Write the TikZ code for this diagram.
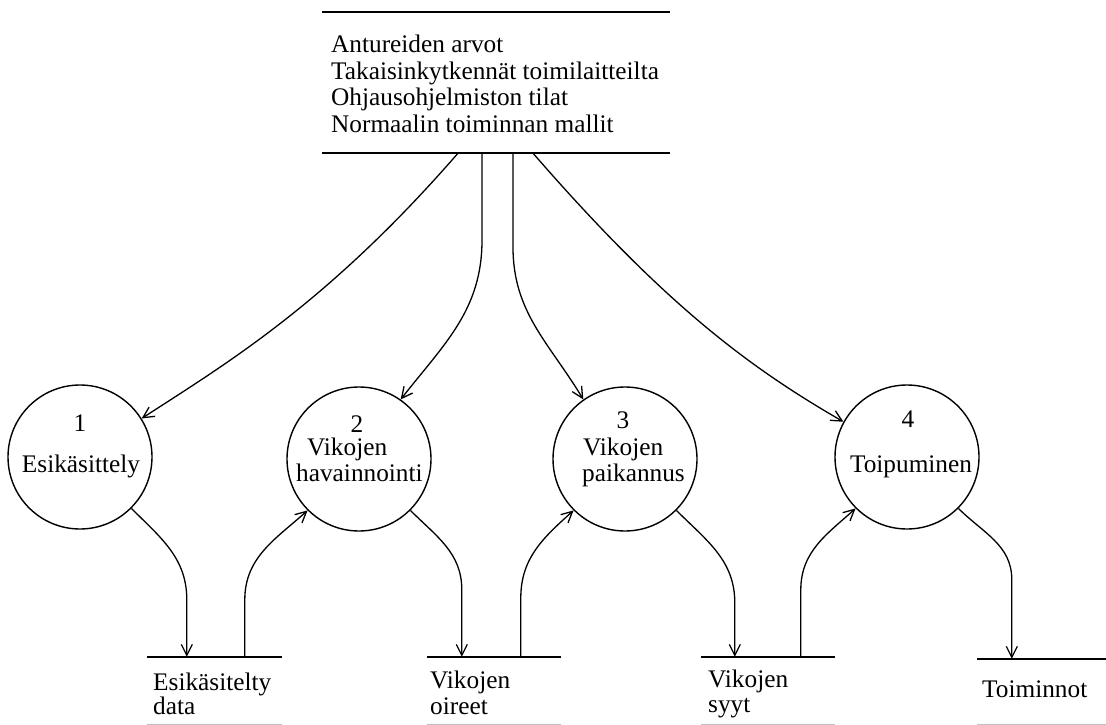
\documentclass[tikz,border=0pt]{standalone}
\usepackage{fontspec}
\setmainfont{Liberation Serif}
\usetikzlibrary{arrows.meta}

\tikzset{
  x=1pt, y=1pt,
  txt/.style={inner sep=0pt, font=\fontsize{25.3}{27}\selectfont},
  proc/.style={circle, draw, line width=1.4pt, minimum size=144pt, inner sep=0pt},
  store/.style={rectangle, inner sep=0pt},
  storeline/.style={line width=1.5pt},
  storebase/.style={line width=1.1pt, draw=black!25},
  flow/.style={line width=1.3pt, -{Straight Barb[length=11pt,width=11pt,line width=1.3pt]}},
}

\begin{document}
\begin{tikzpicture}
\useasboundingbox (0,0) rectangle (1106,-725);

% central data store
\node[store, minimum width=348pt, minimum height=141pt] (top) at (496,-82.5) {};
\draw[storeline] (top.north west) -- (top.north east);
\draw[storeline] (top.south west) -- (top.south east);
\node[txt, anchor=base west] (t1) at (331,-53)   {Antureiden arvot};
\node[txt, anchor=base west] (t2) at (331,-79.5) {Takaisinkytkennät toimilaitteilta};
\node[txt, anchor=base west] (t3) at (331,-106)  {Ohjausohjelmiston tilat};
\node[txt, anchor=base west] (t4) at (331,-132.5){Normaalin toiminnan mallit};

% processes
\node[proc] (c1) at (80,-457)  {};
\node[proc] (c2) at (359,-459) {};
\node[proc] (c3) at (625,-459) {};
\node[proc] (c4) at (907,-457) {};

\node[txt, anchor=base] (n1) at (80,-431)  {1};
\node[txt, anchor=base] (l1) at (81,-472)  {Esikäsittely};
\node[txt, anchor=base] (n2) at (357,-432) {2};
\node[txt, anchor=base west] (l2a) at (307,-455) {Vikojen};
\node[txt, anchor=base west] (l2b) at (296,-481) {havainnointi};
\node[txt, anchor=base] (n3) at (623,-428) {3};
\node[txt, anchor=base west] (l3a) at (583,-455) {Vikojen};
\node[txt, anchor=base west] (l3b) at (582,-481) {paikannus};
\node[txt, anchor=base] (n4) at (908,-427) {4};
\node[txt, anchor=base] (l4) at (911,-472) {Toipuminen};

% intermediate data stores
\node[store, minimum width=135pt, minimum height=67pt] (s1) at (214.5,-690.5) {};
\node[store, minimum width=134pt, minimum height=67pt] (s2) at (494,-690.5) {};
\node[store, minimum width=134pt, minimum height=67pt] (s3) at (768,-690.5) {};
\node[store, minimum width=129pt, minimum height=65pt] (s4) at (1041.5,-691.5) {};
\foreach \s in {s1,s2,s3,s4}{
  \draw[storeline] (\s.north west) -- (\s.north east);
  \draw[storebase] (\s.south west) -- (\s.south east);
}
\node[txt, anchor=base west] (d1a) at (153,-690) {Esikäsitelty};
\node[txt, anchor=base west] (d1b) at (153,-714) {data};
\node[txt, anchor=base west] (d2a) at (430,-688) {Vikojen};
\node[txt, anchor=base west] (d2b) at (430,-714) {oireet};
\node[txt, anchor=base west] (d3a) at (708,-687) {Vikojen};
\node[txt, anchor=base west] (d3b) at (708,-712) {syyt};
\node[txt, anchor=base west] (d4)  at (982,-697) {Toiminnot};

% flows from the central store
\draw[flow] ([xshift=-38pt]top.south) .. controls +(-131:200) and +(33:100) .. (c1.32);
\draw[flow] ([xshift=-14pt]top.south) -- ++(0,-87) to[out=-90,in=52] (c2.55);
\draw[flow] ([xshift=17pt]top.south) -- ++(0,-94) to[out=-90,in=121] (c3.125);
\draw[flow] ([xshift=37pt]top.south) .. controls +(-49:200) and +(150:110) .. (c4.151);

% process -> store
\draw[flow] (c1.-45) to[out=-45,in=90] ([xshift=40pt,yshift=57pt]s1.north west) -- ([xshift=40pt]s1.north west);
\draw[flow] (c2.-45) to[out=-45,in=90] ([xshift=35pt,yshift=67pt]s2.north west) -- ([xshift=35pt]s2.north west);
\draw[flow] (c3.-45) to[out=-45,in=90] ([xshift=34pt,yshift=54pt]s3.north west) -- ([xshift=34pt]s3.north west);
\draw[flow] (c4.-45) to[out=-45,in=90] ([xshift=35pt,yshift=79pt]s4.north west) -- ([xshift=35pt]s4.north west);

% store -> process
\draw[flow] ([xshift=98pt]s1.north west) -- ++(0,57) to[out=90,in=-138] (c2.-135);
\draw[flow] ([xshift=94pt]s2.north west) -- ++(0,59) to[out=90,in=-138] (c3.-135);
\draw[flow] ([xshift=100pt]s3.north west) -- ++(0,67) to[out=90,in=-138] (c4.-135);
\end{tikzpicture}
\end{document}
